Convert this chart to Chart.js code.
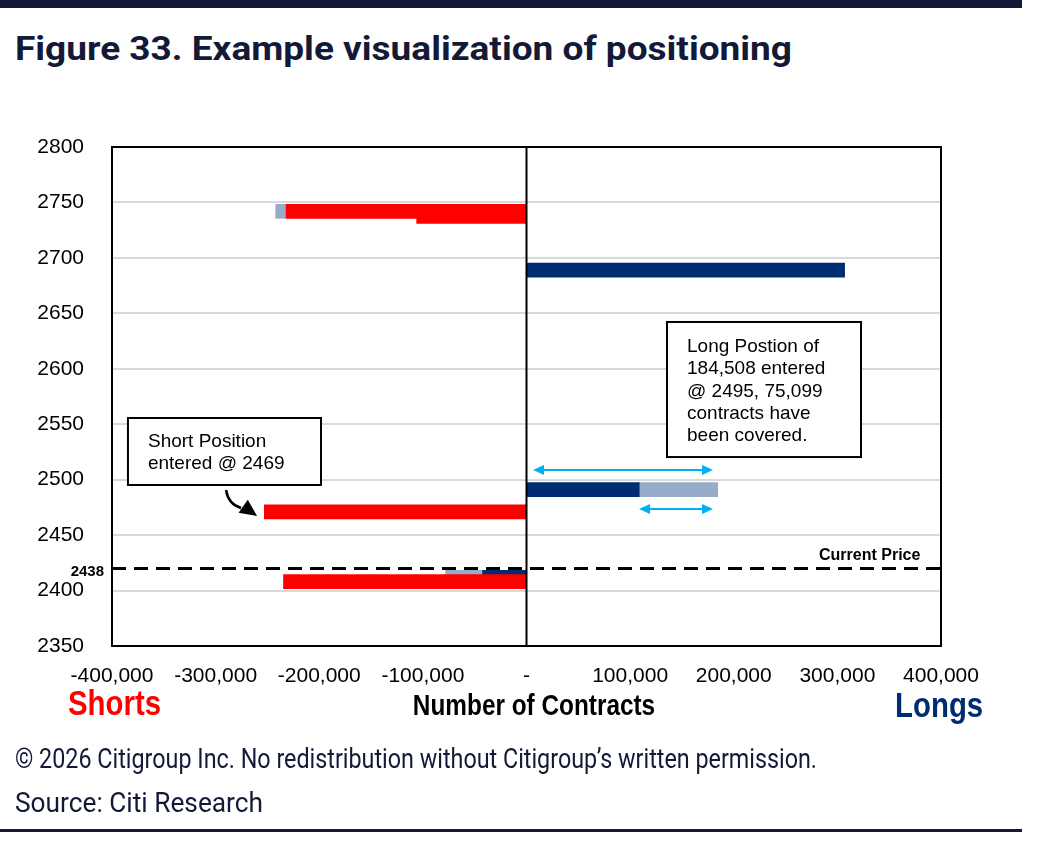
<!DOCTYPE html>
<html>
<head>
<meta charset="utf-8">
<script src="https://cdn.jsdelivr.net/npm/chart.js@4.4.1/dist/chart.umd.min.js"></script>
<style>
  body { margin: 0; width: 1044px; height: 848px; overflow: hidden; position: relative; background: #fff; font-family: Roboto, sans-serif; }
  #topbar { position: absolute; left: 0; top: 0; width: 1022px; height: 8px; background: #131a37; }
  #bottombar { position: absolute; left: 0; top: 829px; width: 1022px; height: 3px; background: #131a37; }
  .fit { position: absolute; white-space: nowrap; transform-origin: 0 0; color: #131a37; line-height: 1; }
  #title { left: 15px; top: 31px; font-weight: 700; font-size: 34px; }
  #copy { left: 15px; top: 746px; font-size: 27px; }
  #source { left: 15px; top: 790px; font-size: 27px; }
  canvas { position: absolute; left: 0; top: 0; }
</style>
</head>
<body>
<div id="topbar"></div>
<div class="fit" id="title" data-w="777">Figure 33. Example visualization of positioning</div>
<canvas id="chart" width="1044" height="848"></canvas>
<div class="fit" id="copy" data-w="802">© 2026 Citigroup Inc. No redistribution without Citigroup’s written permission.</div>
<div class="fit" id="source" data-w="248">Source: Citi Research</div>
<div id="bottombar"></div>

<script>
// price level (y) and contract range (x) of each bar
const shortPrices = [2742, 2737.5, 2471, 2408];
const shortRanges = [[-232000, 0], [-106000, 0], [-253000, 0], [-234500, 0]];
const coveredPrices = [2742, 2412, 2491];
const coveredRanges = [[-242000, -232000], [-78000, -43000], [109409, 184508]];
const longPrices = [2689, 2491, 2412];
const longRanges = [[0, 307000], [0, 109409], [-43000, 0]];
const currentPrice = 2420;
const currentPriceLabel = '2438';
const priceTicks = { min: 2350, max: 2800, step: 50 };
const contractTicks = { min: -400000, max: 400000, step: 100000 };

const toPoints = (prices, ranges) => prices.map((p, i) => ({ y: p, x: ranges[i] }));

// fit html text lines to their widths
document.querySelectorAll('.fit').forEach(el => {
    const w = el.getBoundingClientRect().width;
    el.style.transform = 'scaleX(' + (el.dataset.w / w) + ')';
});

const squeezed = (ctx, text, x, y, font, sx, align, color) => {
    ctx.save();
    ctx.font = font;
    ctx.fillStyle = color;
    ctx.textAlign = align;
    ctx.textBaseline = 'alphabetic';
    ctx.translate(x, y);
    ctx.scale(sx, 1);
    ctx.fillText(text, 0, 0);
    ctx.restore();
};

const arrowHead = (ctx, x, y, angle, len, half) => {
    ctx.beginPath();
    ctx.moveTo(x, y);
    ctx.lineTo(x - len * Math.cos(angle) + half * Math.sin(angle), y - len * Math.sin(angle) - half * Math.cos(angle));
    ctx.lineTo(x - len * Math.cos(angle) - half * Math.sin(angle), y - len * Math.sin(angle) + half * Math.cos(angle));
    ctx.closePath();
    ctx.fill();
};

const decorations = {
    id: 'decorations',
    afterDatasetsDraw(chart) {
        const ctx = chart.ctx;
        const a = chart.chartArea;
        const xs = chart.scales.x, ys = chart.scales.y;
        const X = v => xs.getPixelForValue(v);
        const Y = v => ys.getPixelForValue(v);

        // frame and zero line
        ctx.save();
        ctx.strokeStyle = '#000';
        ctx.lineWidth = 2;
        ctx.strokeRect(a.left, a.top, a.right - a.left, a.bottom - a.top);
        ctx.beginPath();
        ctx.moveTo(X(0), a.top);
        ctx.lineTo(X(0), a.bottom);
        ctx.stroke();

        // current price
        ctx.setLineDash([14, 8]);
        ctx.lineWidth = 3;
        ctx.beginPath();
        ctx.moveTo(a.left, Y(currentPrice));
        ctx.lineTo(a.right, Y(currentPrice));
        ctx.stroke();
        ctx.setLineDash([]);
        ctx.restore();
        squeezed(ctx, 'Current Price', a.right - 122, Y(currentPrice) - 8, 'bold 16px "Liberation Sans"', 1, 'left', '#000');
        squeezed(ctx, currentPriceLabel, a.left - 8, Y(currentPrice) + 8, 'bold 15px "Liberation Sans"', 1, 'right', '#000');

        // axis side labels
        squeezed(ctx, 'Shorts', 68, 715, 'bold 35px "Liberation Sans"', 0.84, 'left', '#ff0000');
        squeezed(ctx, 'Longs', 895, 717, 'bold 35px "Liberation Sans"', 0.84, 'left', '#002d72');
        squeezed(ctx, 'Number of Contracts', 534, 715, 'bold 29px "Liberation Sans"', 0.84, 'center', '#000');

        // annotation boxes
        const box = (x0, x1, y0, y1, lines, base) => {
            const l = X(x0), r = X(x1), t = Y(y0), b = Y(y1);
            ctx.save();
            ctx.fillStyle = '#fff';
            ctx.fillRect(l, t, r - l, b - t);
            ctx.strokeStyle = '#000';
            ctx.lineWidth = 2;
            ctx.strokeRect(l, t, r - l, b - t);
            ctx.restore();
            lines.forEach((s, i) => squeezed(ctx, s, l + 20, t + base + i * 22.3, '19px "Liberation Sans"', 1, 'left', '#000'));
        };
        box(135600, 322800, 2642.2, 2520.4,
            ['Long Postion of', '184,508 entered', '@ 2495, 75,099', 'contracts have', 'been covered.'], 30);
        box(-384600, -198300, 2555.6, 2495.2, ['Short Position', 'entered @ 2469'], 29);

        // cyan double arrows
        const dbl = (x0, x1, yv) => {
            const l = X(x0), r = X(x1), y = Y(yv);
            ctx.save();
            ctx.strokeStyle = '#00b0f0';
            ctx.fillStyle = '#00b0f0';
            ctx.lineWidth = 2;
            ctx.beginPath();
            ctx.moveTo(l + 6, y);
            ctx.lineTo(r - 6, y);
            ctx.stroke();
            arrowHead(ctx, r, y, 0, 11, 5);
            arrowHead(ctx, l, y, Math.PI, 11, 5);
            ctx.restore();
        };
        dbl(6300, 180000, 2508.7);
        dbl(108600, 180000, 2473.6);

        // curved arrow to the short entry
        const sx = X(-289900), sy = Y(2490.7);
        const tx = X(-260000), ty = Y(2467.2);
        ctx.save();
        ctx.strokeStyle = '#000';
        ctx.fillStyle = '#000';
        ctx.lineWidth = 2.5;
        ctx.beginPath();
        ctx.moveTo(sx, sy);
        ctx.quadraticCurveTo(sx + 2, sy + 14, tx - 16, ty - 8);
        ctx.stroke();
        arrowHead(ctx, tx, ty, Math.atan2(8, 16) + 0.15, 17, 8);
        ctx.restore();
    }
};

new Chart(document.getElementById('chart'), {
    type: 'bar',
    data: {
        datasets: [
            { label: 'Shorts', data: toPoints(shortPrices, shortRanges), backgroundColor: '#ff0000' },
            { label: 'Covered', data: toPoints(coveredPrices, coveredRanges), backgroundColor: '#98abc8' },
            { label: 'Longs', data: toPoints(longPrices, longRanges), backgroundColor: '#002d72' }
        ]
    },
    options: {
        indexAxis: 'y',
        responsive: false,
        devicePixelRatio: 1,
        animation: false,
        grouped: false,
        barThickness: 14,
        borderSkipped: false,
        layout: { padding: { top: 147, left: 12, right: 103, bottom: 142 } },
        plugins: { legend: { display: false }, tooltip: { enabled: false } },
        scales: {
            y: {
                type: 'linear',
                offset: false,
                min: priceTicks.min,
                max: priceTicks.max,
                afterFit: s => { s.width = 100; },
                ticks: {
                    stepSize: priceTicks.step,
                    color: '#000',
                    padding: 28,
                    font: { family: 'Liberation Sans', size: 21 },
                    callback: v => String(v)
                },
                grid: { color: '#d9d9d9', lineWidth: 2, drawTicks: false, offset: false },
                border: { display: false }
            },
            x: {
                type: 'linear',
                min: contractTicks.min,
                max: contractTicks.max,
                afterFit: s => { s.height = 60; },
                ticks: {
                    stepSize: contractTicks.step,
                    color: '#000',
                    padding: 18,
                    font: { family: 'Liberation Sans', size: 21 },
                    callback: v => v === 0 ? '-' : v.toLocaleString('en-US')
                },
                grid: { display: false, drawTicks: false },
                border: { display: false }
            }
        }
    },
    plugins: [decorations]
});
</script>
</body>
</html>
